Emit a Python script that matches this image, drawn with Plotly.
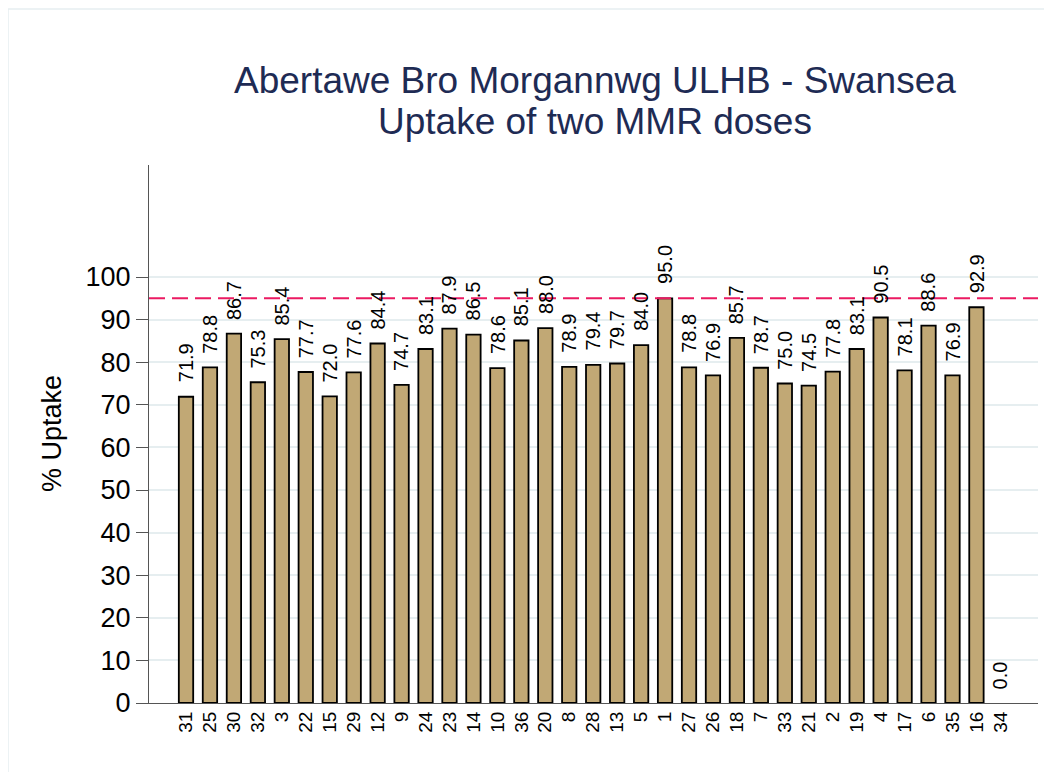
import plotly.graph_objects as go

# ---- data ----
areas = ["31", "25", "30", "32", "3", "22", "15", "29", "12", "9", "24", "23", "14", "10",
         "36", "20", "8", "28", "13", "5", "1", "27", "26", "18", "7", "33", "21", "2",
         "19", "4", "17", "6", "35", "16", "34"]
uptake = [71.9, 78.8, 86.7, 75.3, 85.4, 77.7, 72.0, 77.6, 84.4, 74.7, 83.1, 87.9, 86.5, 78.6,
          85.1, 88.0, 78.9, 79.4, 79.7, 84.0, 95.0, 78.8, 76.9, 85.7, 78.7, 75.0, 74.5, 77.8,
          83.1, 90.5, 78.1, 88.6, 76.9, 92.9, 0.0]
target = 95
y_ticks = [0, 10, 20, 30, 40, 50, 60, 70, 80, 90, 100]
title_lines = ["Abertawe Bro Morgannwg ULHB - Swansea", "Uptake of two MMR doses"]
y_title = "% Uptake"

# ---- layout geometry (pixels in the screenshot; page body adds an 8px offset) ----
OFF = 8
W, H = 1052, 772
PL, PR, PT, PB = 149, 1038, 165, 703
FONT = "Liberation Sans, Arial, sans-serif"
TITLE_COLOR = "#1e2b54"
GRID = "#e6eef0"
AXIS = "#555555"


def px_x(p):
    return (p - PL) / (PR - PL)


def px_y(p):
    return (PB - p) / (PB - PT)


outline_widths = [1.8 if v > 0 else 0 for v in uptake]

fig = go.Figure()
fig.add_trace(go.Bar(
    x=areas, y=uptake, width=0.6,
    marker=dict(color="#c1a875", line=dict(color="black", width=outline_widths)),
    hoverinfo="x+y",
))

annotations = []
for i, v in enumerate(uptake):
    annotations.append(dict(
        x=i, y=v, xref="x", yref="y", text=f"{v:.1f}", textangle=-90,
        showarrow=False, yanchor="bottom", xanchor="center", yshift=12,
        font=dict(family=FONT, size=20, color="black"),
    ))

annotations.append(dict(x=px_x(595), y=px_y(80), xref="paper", yref="paper",
                        text=title_lines[0], showarrow=False, xanchor="center", yanchor="middle",
                        font=dict(family=FONT, size=37, color=TITLE_COLOR)))
annotations.append(dict(x=px_x(595), y=px_y(122), xref="paper", yref="paper",
                        text=title_lines[1], showarrow=False, xanchor="center", yanchor="middle",
                        font=dict(family=FONT, size=37, color=TITLE_COLOR)))
annotations.append(dict(x=px_x(52), y=px_y(434), xref="paper", yref="paper",
                        text=y_title, showarrow=False, textangle=-90,
                        xanchor="center", yanchor="middle",
                        font=dict(family=FONT, size=27, color="black")))

shapes = [
    dict(type="line", xref="paper", yref="y", x0=0, x1=1, y0=target, y1=target,
         line=dict(color="#eb1a62", width=2, dash="16px,7px")),
    # outer graph-region border (top and left)
    dict(type="line", xref="paper", yref="paper", x0=px_x(8), x1=px_x(1070),
         y0=px_y(9), y1=px_y(9), line=dict(color="#e6eef0", width=1.5)),
    dict(type="line", xref="paper", yref="paper", x0=px_x(8), x1=px_x(8),
         y0=px_y(9), y1=px_y(800), line=dict(color="#e6eef0", width=1.5)),
]

fig.update_layout(
    width=W, height=H,
    margin=dict(l=PL - OFF, r=W - PR + OFF, t=PT - OFF, b=H - PB + OFF, autoexpand=False),
    paper_bgcolor="white", plot_bgcolor="white",
    showlegend=False,
    annotations=annotations,
    shapes=shapes,
    font=dict(family=FONT, color="black"),
)

fig.update_xaxes(
    type="category", range=[-1.545, len(areas) - 1 + 1.57],
    showline=True, linecolor=AXIS, linewidth=1,
    showgrid=False, zeroline=False,
    ticks="",
    tickangle=-90, tickfont=dict(family=FONT, size=19, color="black"),
)
fig.update_yaxes(
    range=[0, 126.3], tickvals=y_ticks,
    showline=True, linecolor=AXIS, linewidth=1,
    showgrid=True, gridcolor=GRID, gridwidth=1.5,
    zeroline=False,
    ticks="outside", ticklen=12, tickcolor=AXIS, tickwidth=1,
    tickfont=dict(family=FONT, size=27, color="black"),
)

fig.write_html("out.html")
